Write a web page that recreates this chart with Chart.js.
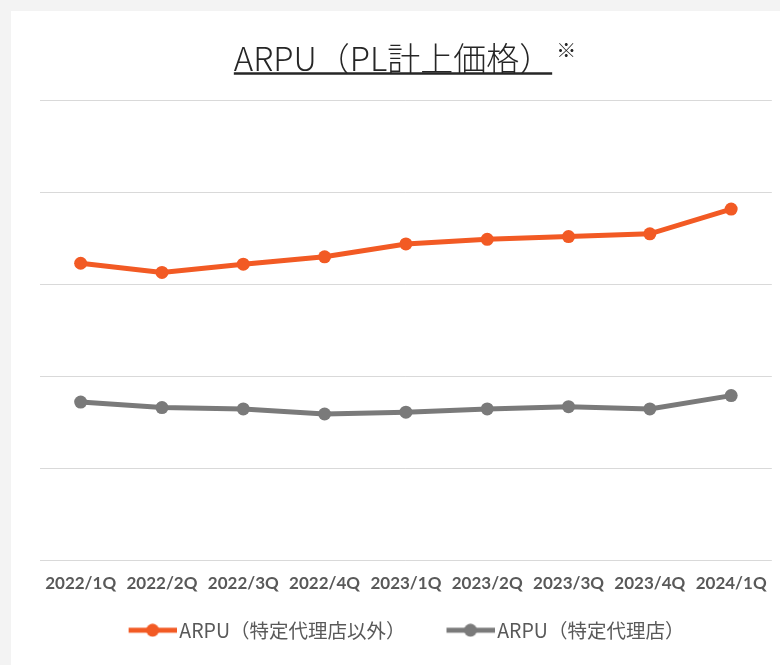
<!DOCTYPE html>
<html>
<head>
<meta charset="utf-8">
<script src="https://cdn.jsdelivr.net/npm/chart.js@4/dist/chart.umd.min.js"></script>
<style>
  html, body { margin: 0; padding: 0; background: #f3f3f3; }
  #wrap { position: absolute; left: 11px; top: 11px; width: 769px; height: 654px; background: #ffffff; }
</style>
</head>
<body>
<div id="wrap"><canvas id="chart" width="769" height="654"></canvas></div>
<script>
const categories = ['2022/1Q', '2022/2Q', '2022/3Q', '2022/4Q', '2023/1Q', '2023/2Q', '2023/3Q', '2023/4Q', '2024/1Q'];
const arpuOther = [3.23, 3.13, 3.22, 3.30, 3.44, 3.49, 3.52, 3.55, 3.82];
const arpuAgent = [1.72, 1.66, 1.645, 1.59, 1.61, 1.645, 1.67, 1.645, 1.79];
const seriesNames = ['ARPU（特定代理店以外）', 'ARPU（特定代理店）'];
const titleText = 'ARPU（PL計上価格）';
const noteMark = '※';

const ORANGE = '#F25A24';
const GRAY = '#7A7A7A';
const JP = '"Noto Sans CJK JP", "Noto Sans", sans-serif';

// legend marker: line with a dot; left part of the sprite is left blank for item spacing
function legendSprite(color) {
  const c = document.createElement('canvas');
  c.width = 82; c.height = 14;
  const g = c.getContext('2d');
  g.strokeStyle = color;
  g.lineWidth = 5;
  g.beginPath();
  g.moveTo(34, 7); g.lineTo(82, 7);
  g.stroke();
  g.fillStyle = color;
  g.beginPath();
  g.arc(58, 7, 6.5, 0, Math.PI * 2);
  g.fill();
  return c;
}

const titleDeco = {
  id: 'titleDeco',
  afterDraw(chart) {
    const ctx = chart.ctx;
    const tb = chart.titleBlock;
    const cx = (tb.left + tb.right) / 2;
    ctx.save();
    ctx.font = '300 33px ' + JP;
    const w = ctx.measureText(titleText).width;
    const y = 62.5;
    ctx.strokeStyle = '#262626';
    ctx.lineWidth = 2.5;
    ctx.beginPath();
    ctx.moveTo(cx - w / 2, y);
    ctx.lineTo(cx + w / 2, y);
    ctx.stroke();
    ctx.font = '20px ' + JP;
    ctx.fillStyle = '#262626';
    ctx.textBaseline = 'middle';
    ctx.fillText(noteMark, cx + w / 2 + 4, 39);
    ctx.restore();
  }
};

const sprites = [legendSprite(ORANGE), legendSprite(GRAY)];

new Chart(document.getElementById('chart').getContext('2d'), {
  type: 'line',
  data: {
    labels: categories,
    datasets: [
      {
        label: seriesNames[0],
        data: arpuOther,
        borderColor: ORANGE,
        backgroundColor: ORANGE,
        borderWidth: 5,
        pointRadius: 6.5,
        pointHoverRadius: 6.5,
        pointBorderWidth: 0,
        tension: 0
      },
      {
        label: seriesNames[1],
        data: arpuAgent,
        borderColor: GRAY,
        backgroundColor: GRAY,
        borderWidth: 5,
        pointRadius: 6.5,
        pointHoverRadius: 6.5,
        pointBorderWidth: 0,
        tension: 0
      }
    ]
  },
  options: {
    responsive: false,
    animation: false,
    layout: { padding: { left: 0, right: 5, top: 0, bottom: 15 } },
    plugins: {
      title: {
        display: true,
        text: titleText,
        color: '#262626',
        font: { family: JP, size: 33, weight: '300', lineHeight: 1.2 },
        padding: { top: 28, bottom: 22 }
      },
      legend: {
        position: 'bottom',
        labels: {
          usePointStyle: true,
          pointStyleWidth: 68,
          padding: 14,
          color: '#595959',
          font: { family: JP, size: 19.5 },
          generateLabels(chart) {
            return chart.data.datasets.map((ds, i) => ({
              text: ds.label,
              pointStyle: sprites[i],
              fillStyle: ds.borderColor,
              strokeStyle: ds.borderColor,
              lineWidth: 0,
              fontColor: '#595959',
              datasetIndex: i,
              hidden: false
            }));
          }
        }
      },
      tooltip: { enabled: false }
    },
    scales: {
      x: {
        offset: true,
        grid: { display: false, drawTicks: false },
        border: { display: false },
        ticks: {
          padding: 13,
          color: '#595959',
          maxRotation: 0,
          font: { family: 'Lato, sans-serif', size: 17, weight: 'bold', lineHeight: 1.2 }
        }
      },
      y: {
        min: 0,
        max: 5,
        afterFit(scale) { scale.width = 29; },
        grid: { color: '#d9d9d9', lineWidth: 1, drawTicks: false },
        border: { display: false },
        ticks: { display: false, stepSize: 1 }
      }
    }
  },
  plugins: [titleDeco]
});
</script>
</body>
</html>
